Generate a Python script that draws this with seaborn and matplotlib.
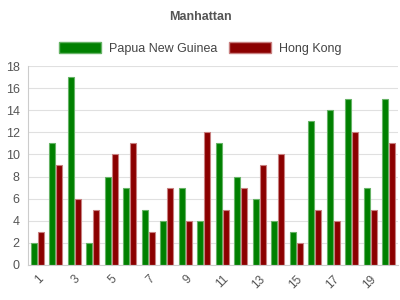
import matplotlib
matplotlib.use("Agg")
import matplotlib.pyplot as plt
import seaborn as sns
import pandas as pd
from matplotlib.patches import Patch

categories = [str(i) for i in range(1, 21)]
papua = [2, 11, 17, 2, 8, 7, 5, 4, 7, 4, 11, 8, 6, 4, 3, 13, 14, 15, 7, 15]
hongkong = [3, 9, 6, 5, 10, 11, 3, 7, 4, 12, 5, 7, 9, 10, 2, 5, 4, 12, 5, 11]
series = ["Papua New Guinea", "Hong Kong"]
colors = ["#008000", "#8b0000"]
edges = ["#66b366", "#c88080"]

df = pd.DataFrame({
    "cat": categories * 2,
    "value": papua + hongkong,
    "series": [series[0]] * 20 + [series[1]] * 20,
})

sns.set_style("white")
plt.rcParams['font.family'] = ['Liberation Sans', 'DejaVu Sans']
fig = plt.figure(figsize=(4, 3), dpi=100)
ax = fig.add_axes([0.07, 0.117, 0.925, 0.663])
sns.barplot(data=df, x="cat", y="value", hue="series", palette=colors,
            ax=ax, width=0.72, gap=0.1, legend=False, saturation=1)
for i, cont in enumerate(ax.containers):
    for p in cont:
        p.set_edgecolor(edges[i])
        p.set_linewidth(0.8)

ax.set_ylim(0, 18)
ax.set_yticks(range(0, 19, 2))
ax.grid(axis="y", color="#e0e0e0", linewidth=0.8)
ax.set_axisbelow(True)
ax.set_xlim(-0.5, 19.5)
ax.set_xticks(range(0, 20, 2))
ax.set_xticklabels(categories[::2], rotation=45, ha="right", rotation_mode="anchor",
                   fontsize=8.5, color="#555555")
ax.tick_params(axis="x", length=0, pad=6)
ax.set_xticks([i for i in range(1, 20, 2)], minor=True)
ax.tick_params(axis="x", which="minor", length=5, color="#cccccc")
ax.tick_params(axis="y", labelsize=9, labelcolor="#555555", length=4, color="#cccccc", pad=2)
ax.set_xlabel("")
ax.set_ylabel("")
for s in ["top", "right"]:
    ax.spines[s].set_visible(False)
ax.spines["left"].set_color("#cccccc")
ax.spines["bottom"].set_color("#cccccc")

fig.text(0.5, 0.945, "Manhattan", ha="center", va="center", fontsize=9,
         fontweight="bold", color="#555555")
handles = [Patch(facecolor=colors[i], edgecolor=edges[i], label=series[i]) for i in range(2)]
fig.legend(handles=handles, loc="center", bbox_to_anchor=(0.5, 0.838), ncol=2,
           frameon=False, fontsize=9, handlelength=3.4, handleheight=1.0,
           columnspacing=0.9, handletextpad=0.6, labelcolor="#444444")

fig.savefig("out.png", dpi=100)
